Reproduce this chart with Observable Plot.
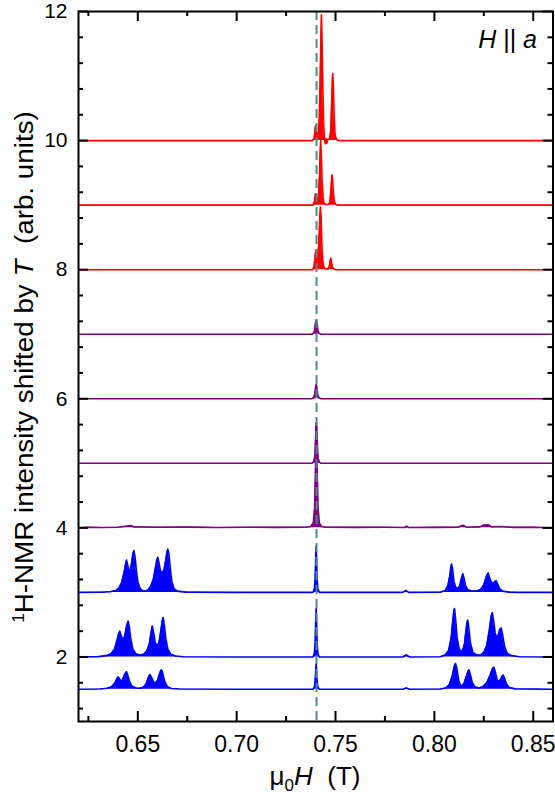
<!DOCTYPE html>
<html>
<head>
<meta charset="utf-8">
<script src="https://cdn.jsdelivr.net/npm/d3@7"></script>
<script src="https://cdn.jsdelivr.net/npm/@observablehq/plot@0.6"></script>
<style>
  html, body { margin: 0; padding: 0; background: #fff; }
  svg { font-family: "Liberation Sans", Arial, sans-serif; }
</style>
</head>
<body>
<div id="chart"></div>
<script>
// ---- tick values and labels ----
const xMajor = [0.65, 0.70, 0.75, 0.80, 0.85];
const xTickLabels = ["0.65", "0.70", "0.75", "0.80", "0.85"];
const xMinor = [0.625, 0.675, 0.725, 0.775, 0.825];
const yMajor = [2, 4, 6, 8, 10, 12];
const yTickLabels = ["2", "4", "6", "8", "10", "12"];
const yMinor = [1.2, 1.6, 2.4, 2.8, 3.2, 3.6, 4.4, 4.8, 5.2, 5.6, 6.4, 6.8, 7.2, 7.6,
                8.4, 8.8, 9.2, 9.6, 10.4, 10.8, 11.2, 11.6];
const referenceField = [0.7404];

// ---- trace offsets (vertical shift) and groups ----
const traceOffsets = [10, 9, 8, 7, 6, 5, 4, 3, 2, 1.5];
const traceGroups  = ["red", "red", "red", "purple", "purple", "purple", "purple", "blue", "blue", "blue"];

// ---- spectra: [field (T), intensity above its baseline] ----
const spec10 = [[0.62,0],[0.7385,0],[0.7392,0.04],[0.7396,0.15],[0.7399,0.23],[0.7403,0.15],[0.7408,0.06],[0.7413,0.08],[0.7418,0.35],[0.7422,0.9],[0.7426,1.6],[0.7429,1.95],[0.7432,1.55],[0.7436,0.8],[0.7440,0.25],[0.7444,0.05],[0.7448,-0.05],[0.7452,0.03],[0.7456,-0.04],[0.7462,0.02],[0.7470,0.03],[0.7476,0.15],[0.7480,0.55],[0.7484,0.95],[0.7486,1.04],[0.7489,0.85],[0.7493,0.4],[0.7497,0.12],[0.7502,0.04],[0.7508,0.01],[0.7515,0],[0.86,0]];
const spec9 = [[0.62,0],[0.7386,0],[0.7393,0.05],[0.7398,0.17],[0.7403,0.1],[0.7409,0.06],[0.7414,0.15],[0.7419,0.45],[0.7422,0.8],[0.7425,1.0],[0.7428,0.8],[0.7432,0.4],[0.7437,0.12],[0.7442,0.03],[0.7450,0.01],[0.7466,0.01],[0.7472,0.06],[0.7477,0.25],[0.7481,0.43],[0.7483,0.47],[0.7486,0.38],[0.7490,0.16],[0.7495,0.05],[0.7502,0.01],[0.7510,0],[0.86,0]];
const spec8 = [[0.62,0],[0.7385,0],[0.7392,0.06],[0.7397,0.22],[0.7400,0.3],[0.7404,0.22],[0.7409,0.2],[0.7414,0.35],[0.7418,0.6],[0.7421,0.85],[0.7424,0.97],[0.7427,0.8],[0.7431,0.4],[0.7436,0.12],[0.7441,0.04],[0.7448,0.01],[0.7462,0.01],[0.7468,0.04],[0.7472,0.12],[0.7476,0.18],[0.7480,0.12],[0.7485,0.04],[0.7492,0.01],[0.7500,0],[0.86,0]];
const spec7 = [[0.62,0],[0.7380,0],[0.7390,0.02],[0.7395,0.07],[0.7399,0.18],[0.7403,0.22],[0.7407,0.16],[0.7411,0.06],[0.7417,0.015],[0.7426,0],[0.86,0]];
const spec6 = [[0.62,0],[0.7380,0],[0.7390,0.02],[0.7395,0.07],[0.7399,0.18],[0.7403,0.22],[0.7407,0.15],[0.7411,0.05],[0.7417,0.015],[0.7426,0],[0.86,0]];
const spec5 = [[0.62,0],[0.7382,0],[0.7391,0.03],[0.7396,0.12],[0.7399,0.38],[0.7401,0.58],[0.7403,0.64],[0.7405,0.55],[0.7408,0.3],[0.7412,0.08],[0.7418,0.02],[0.7426,0],[0.86,0]];
const spec4 = [[0.62,0],[0.625,0.01],[0.632,0.005],[0.640,0.01],[0.645,0.03],[0.6465,0.035],[0.648,0.015],[0.660,0.01],[0.675,0.012],[0.690,0.005],[0.705,0.01],[0.720,0.008],[0.735,0.01],[0.7375,0.02],[0.7388,0.08],[0.7394,0.3],[0.7398,0.8],[0.7401,1.35],[0.7403,1.6],[0.7405,1.35],[0.7408,0.8],[0.7412,0.3],[0.7418,0.08],[0.7430,0.02],[0.745,0.01],[0.760,0.008],[0.775,0.01],[0.785,0.005],[0.786,0.025],[0.787,0.005],[0.800,0.008],[0.812,0.01],[0.8144,0.04],[0.8165,0.01],[0.823,0.015],[0.825,0.045],[0.8275,0.045],[0.829,0.015],[0.833,0.02],[0.840,0.008],[0.850,0.01],[0.86,0]];
const spec3 = [[0.62,0],[0.632,0.003],[0.636,0.01],[0.639,0.03],[0.6405,0.07],[0.6418,0.15],[0.6430,0.3],[0.6438,0.44],[0.6443,0.50],[0.6449,0.42],[0.6455,0.35],[0.6461,0.33],[0.6467,0.42],[0.6474,0.58],[0.6480,0.65],[0.6486,0.55],[0.6493,0.33],[0.6501,0.15],[0.6512,0.06],[0.6525,0.025],[0.6540,0.02],[0.6552,0.04],[0.6565,0.09],[0.6578,0.2],[0.6590,0.4],[0.6596,0.5],[0.6601,0.545],[0.6607,0.46],[0.6615,0.33],[0.6624,0.30],[0.6633,0.36],[0.6642,0.52],[0.6648,0.63],[0.6652,0.67],[0.6657,0.6],[0.6664,0.38],[0.6672,0.17],[0.6683,0.06],[0.6700,0.02],[0.674,0.005],[0.70,0],
  [0.7386,0],[0.7393,0.05],[0.7397,0.2],[0.7400,0.55],[0.7402,0.72],[0.7404,0.55],[0.7407,0.2],[0.7411,0.05],[0.7418,0],
  [0.784,0],[0.7855,0.03],[0.787,0],
  [0.803,0.003],[0.8055,0.03],[0.8068,0.1],[0.8078,0.26],[0.8083,0.38],[0.8087,0.44],[0.8092,0.36],[0.8099,0.17],[0.8108,0.08],[0.8118,0.06],[0.8128,0.1],[0.8137,0.22],[0.8144,0.29],[0.8150,0.22],[0.8158,0.1],[0.8170,0.04],[0.8190,0.02],[0.8215,0.02],[0.8235,0.05],[0.8250,0.12],[0.8263,0.25],[0.8272,0.30],[0.8280,0.22],[0.8290,0.15],[0.8298,0.14],[0.8306,0.17],[0.8313,0.18],[0.8320,0.13],[0.8330,0.06],[0.8345,0.02],[0.8375,0.005],[0.842,0],[0.86,0]];
const spec2 = [[0.62,0],[0.630,0.005],[0.634,0.02],[0.6365,0.05],[0.6382,0.12],[0.6395,0.26],[0.6403,0.36],[0.6409,0.40],[0.6415,0.34],[0.6422,0.28],[0.6428,0.275],[0.6435,0.34],[0.6443,0.48],[0.6451,0.555],[0.6457,0.47],[0.6465,0.27],[0.6475,0.12],[0.6490,0.05],[0.6510,0.03],[0.6530,0.04],[0.6545,0.09],[0.6558,0.2],[0.6567,0.38],[0.6573,0.48],[0.6580,0.38],[0.6588,0.22],[0.6598,0.17],[0.6607,0.22],[0.6617,0.42],[0.6624,0.57],[0.6628,0.61],[0.6633,0.53],[0.6641,0.3],[0.6652,0.12],[0.6668,0.04],[0.669,0.015],[0.673,0.003],[0.70,0],
  [0.7386,0],[0.7393,0.05],[0.7397,0.22],[0.7400,0.58],[0.7402,0.75],[0.7404,0.58],[0.7407,0.22],[0.7411,0.05],[0.7418,0],
  [0.784,0],[0.7858,0.03],[0.7875,0],
  [0.803,0.003],[0.8055,0.03],[0.8072,0.1],[0.8085,0.3],[0.8094,0.6],[0.8098,0.7],[0.8102,0.75],[0.8107,0.6],[0.8115,0.3],[0.8125,0.13],[0.8135,0.09],[0.8143,0.1],[0.8152,0.2],[0.8160,0.42],[0.8166,0.55],[0.8169,0.57],[0.8174,0.46],[0.8182,0.22],[0.8195,0.07],[0.8215,0.03],[0.8233,0.03],[0.8250,0.07],[0.8265,0.18],[0.8278,0.42],[0.8287,0.63],[0.8293,0.685],[0.8299,0.58],[0.8307,0.38],[0.8315,0.30],[0.8322,0.33],[0.8330,0.42],[0.8338,0.45],[0.8345,0.35],[0.8355,0.16],[0.8368,0.06],[0.8390,0.02],[0.843,0.003],[0.86,0]];
const spec15 = [[0.62,0],[0.631,0.004],[0.6345,0.015],[0.6368,0.04],[0.6385,0.1],[0.6395,0.17],[0.6401,0.19],[0.6408,0.16],[0.6416,0.13],[0.6422,0.14],[0.6432,0.22],[0.6439,0.26],[0.6443,0.27],[0.6449,0.22],[0.6458,0.12],[0.6470,0.05],[0.6490,0.02],[0.6510,0.015],[0.6528,0.03],[0.6542,0.08],[0.6553,0.18],[0.6561,0.23],[0.6569,0.19],[0.6580,0.11],[0.6590,0.10],[0.6600,0.14],[0.6610,0.24],[0.6616,0.29],[0.6620,0.30],[0.6626,0.25],[0.6636,0.12],[0.6650,0.04],[0.667,0.012],[0.671,0.003],[0.70,0],
  [0.7386,0],[0.7393,0.03],[0.7397,0.12],[0.7400,0.3],[0.7402,0.39],[0.7404,0.3],[0.7407,0.12],[0.7411,0.03],[0.7418,0],
  [0.784,0],[0.7858,0.02],[0.7875,0],
  [0.803,0.003],[0.8058,0.02],[0.8075,0.07],[0.8090,0.2],[0.8100,0.35],[0.8107,0.40],[0.8114,0.32],[0.8123,0.14],[0.8132,0.06],[0.8140,0.05],[0.8150,0.09],[0.8162,0.2],[0.8170,0.28],[0.8175,0.30],[0.8181,0.24],[0.8192,0.1],[0.8205,0.04],[0.8225,0.02],[0.8245,0.04],[0.8265,0.1],[0.8282,0.22],[0.8294,0.32],[0.8301,0.34],[0.8308,0.27],[0.8318,0.14],[0.8325,0.12],[0.8333,0.14],[0.8342,0.2],[0.8348,0.22],[0.8355,0.17],[0.8365,0.08],[0.8380,0.025],[0.841,0.005],[0.86,0]];

const spectra = [spec10, spec9, spec8, spec7, spec6, spec5, spec4, spec3, spec2, spec15];

// ---- styling ----
const groupColor = {red: "#ff0000", purple: "#800080", blue: "#0000ff"};
const W = 555, H = 796;
const mTop = 11, mBottom = 75, mLeft = 78, mRight = 2.5;
const innerW = W - mLeft - mRight, innerH = H - mTop - mBottom;
const majorLen = 10, minorLen = 5;

const traceMarks = [];
spectra.forEach((s, i) => {
  const base = traceOffsets[i];
  const c = groupColor[traceGroups[i]];
  traceMarks.push(Plot.areaY(s, {x: d => d[0], y1: () => base, y2: d => base + d[1], fill: c, curve: "linear"}));
  traceMarks.push(Plot.line(s, {x: d => d[0], y: d => base + d[1], stroke: c, strokeWidth: 1.6, curve: "linear"}));
});

const tickStyle = {stroke: "black", strokeWidth: 2};
const chart = Plot.plot({
  width: W, height: H,
  marginTop: mTop, marginBottom: mBottom, marginLeft: mLeft, marginRight: mRight,
  x: {domain: [0.62, 0.86], label: null},
  y: {domain: [1, 12], label: null},
  style: {fontFamily: "'Liberation Sans', Arial, sans-serif", color: "black", background: "white"},
  marks: [
    ...traceMarks,
    Plot.ruleX(referenceField, {x: d => d, stroke: "#4a8b8b", strokeWidth: 2, strokeDasharray: "9,5"}),
    // inward ticks, bottom & top
    Plot.tickX(xMajor, {x: d => d, insetTop: innerH - majorLen, ...tickStyle}),
    Plot.tickX(xMinor, {x: d => d, insetTop: innerH - minorLen, ...tickStyle}),
    Plot.tickX(xMajor, {x: d => d, insetBottom: innerH - majorLen, ...tickStyle}),
    Plot.tickX(xMinor, {x: d => d, insetBottom: innerH - minorLen, ...tickStyle}),
    // inward ticks, left & right
    Plot.tickY(yMajor, {y: d => d, insetRight: innerW - majorLen, ...tickStyle}),
    Plot.tickY(yMinor, {y: d => d, insetRight: innerW - minorLen, ...tickStyle}),
    Plot.tickY(yMajor, {y: d => d, insetLeft: innerW - majorLen, ...tickStyle}),
    Plot.tickY(yMinor, {y: d => d, insetLeft: innerW - minorLen, ...tickStyle}),
    Plot.frame({stroke: "black", strokeWidth: 2}),
    Plot.axisX({ticks: xMajor, tickFormat: (d, i) => xTickLabels[i], tickSize: 0, tickPadding: 14, fontSize: 23, label: null, anchor: "bottom"}),
    Plot.axisY({ticks: yMajor, tickFormat: (d, i) => yTickLabels[i], tickSize: 0, tickPadding: 11, fontSize: 21, label: null, anchor: "left"})
  ]
});

const svg = d3.select(chart);
// y-axis title
const yt = svg.append("text")
  .attr("transform", "translate(33,367) rotate(-90) scale(1.07,1)")
  .attr("text-anchor", "middle")
  .attr("fill", "black")
  .style("font-size", "26px")
  .style("white-space", "pre");
yt.append("tspan").attr("font-size", "16px").attr("dy", "-9").text("1");
yt.append("tspan").attr("dy", "9").text("H-NMR intensity shifted by ");
yt.append("tspan").attr("font-style", "italic").text("T");
yt.append("tspan").text("  (arb. units)");

// x-axis title
const xt = svg.append("text")
  .attr("x", 315).attr("y", 785)
  .attr("text-anchor", "middle")
  .attr("fill", "black")
  .style("font-size", "26px")
  .style("white-space", "pre");
xt.append("tspan").text("μ");
xt.append("tspan").attr("font-size", "17px").attr("dy", "6").text("0");
xt.append("tspan").attr("dy", "-6").attr("font-style", "italic").text("H");
xt.append("tspan").text("  (T)");

// field-direction annotation
const an = svg.append("text")
  .attr("x", 537).attr("y", 48)
  .attr("text-anchor", "end")
  .attr("fill", "black")
  .style("font-size", "25px")
  .style("white-space", "pre");
an.append("tspan").attr("font-style", "italic").text("H");
an.append("tspan").text(" || ");
an.append("tspan").attr("font-style", "italic").text("a");

document.getElementById("chart").appendChild(chart);
</script>
</body>
</html>
